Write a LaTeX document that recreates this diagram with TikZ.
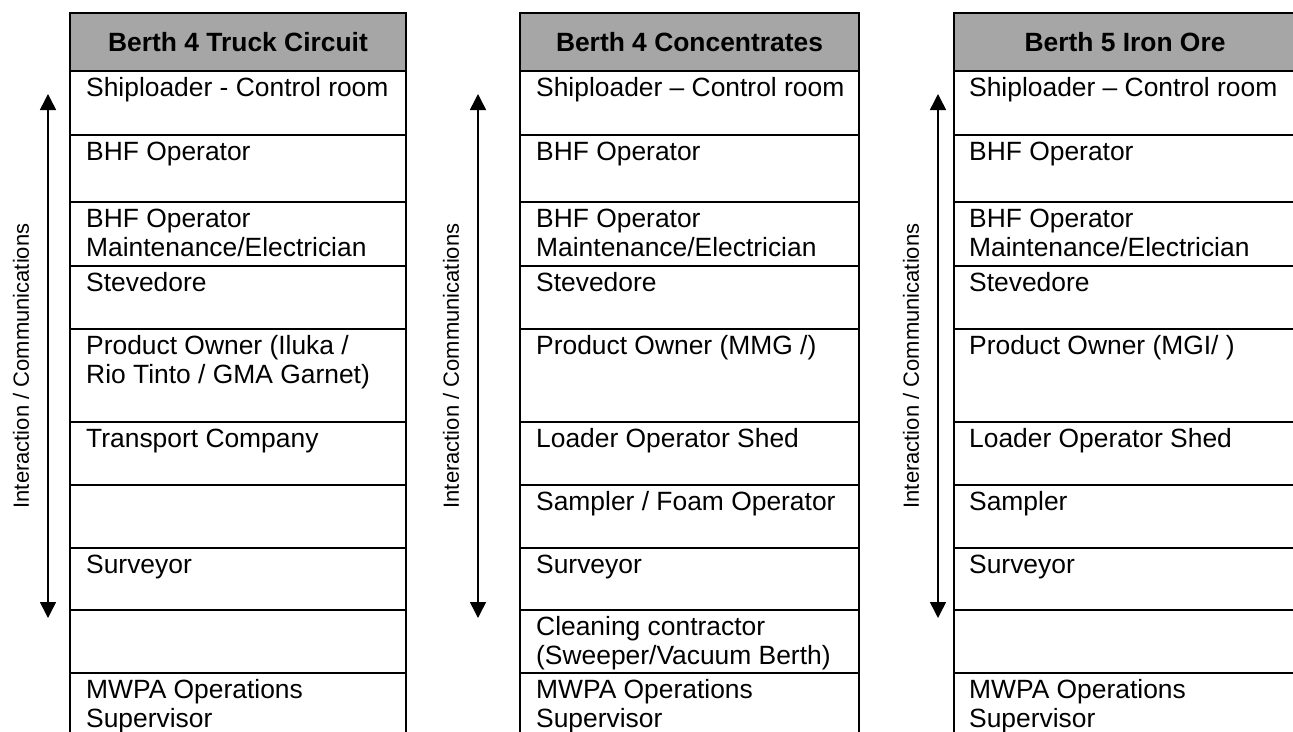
\documentclass[tikz,border=0pt]{standalone}
\usepackage{fontspec}
\setmainfont{Liberation Sans}
\usetikzlibrary{arrows.meta}
\definecolor{hdrgray}{RGB}{166,166,166}
\tikzset{
  grid/.style={draw=black, line width=1.8pt},
  hdr/.style={font=\fontsize{26.4}{30}\selectfont\bfseries, anchor=base, inner sep=0pt},
  celltxt/.style={font=\fontsize{26.4}{29}\selectfont, anchor=north west, inner sep=0pt, align=left},
  side/.style={font=\fontsize{22}{26}\selectfont, rotate=90, inner sep=0pt},
  comm/.style={line width=1.5pt, {Triangle[length=16pt,width=16pt]}-{Triangle[length=16pt,width=16pt]}},
}
\begin{document}
\begin{tikzpicture}[x=1pt,y=-1pt]
\useasboundingbox (0,0) rectangle (1293,731);
% ---------- table A ----------
\fill[hdrgray] (70,13) rectangle (406,71);
\draw[grid] (70,13) rectangle (406,71);
\node[hdr] (ha) at (238,51.5) {Berth 4 Truck Circuit};
\foreach \tp/\bt/\txt [count=\i] in {
  71/135/{Shiploader - Control room},
  135/202/{BHF Operator},
  202/266/{BHF Operator\\Maintenance/Electrician},
  266/329/{Stevedore},
  329/422/{Product Owner (Iluka /\\Rio Tinto / GMA Garnet)},
  422/485/{Transport Company},
  485/548/{},
  548/610/{Surveyor},
  610/673/{},
  673/745/{MWPA Operations\\Supervisor}}{
  \draw[grid] (70,\tp) rectangle (406,\bt);
  \node[celltxt] (a\i) at (86,\tp+5.2) {\strut\txt};
}
\coordinate (ta) at (48,94);
\coordinate (ba) at (48,618);
\draw[comm] (ta) -- (ba);
\node[side] (sa) at (21,366) {Interaction / Communications};
% ---------- table B ----------
\fill[hdrgray] (520,13) rectangle (859,71);
\draw[grid] (520,13) rectangle (859,71);
\node[hdr] (hb) at (689.5,51.5) {Berth 4 Concentrates};
\foreach \tp/\bt/\txt [count=\i] in {
  71/135/{Shiploader \textendash{} Control room},
  135/202/{BHF Operator},
  202/266/{BHF Operator\\Maintenance/Electrician},
  266/329/{Stevedore},
  329/422/{Product Owner (MMG /)},
  422/485/{Loader Operator Shed},
  485/548/{Sampler / Foam Operator},
  548/610/{Surveyor},
  610/673/{Cleaning contractor\\(Sweeper/Vacuum Berth)},
  673/745/{MWPA Operations\\Supervisor}}{
  \draw[grid] (520,\tp) rectangle (859,\bt);
  \node[celltxt] (b\i) at (536,\tp+5.2) {\strut\txt};
}
\coordinate (tb) at (478,94);
\coordinate (bb) at (478,618);
\draw[comm] (tb) -- (bb);
\node[side] (sb) at (451,366) {Interaction / Communications};
% ---------- table C ----------
\fill[hdrgray] (954,13) rectangle (1296,71);
\draw[grid] (954,13) rectangle (1296,71);
\node[hdr] (hc) at (1125,51.5) {Berth 5 Iron Ore};
\foreach \tp/\bt/\txt [count=\i] in {
  71/135/{Shiploader \textendash{} Control room},
  135/202/{BHF Operator},
  202/266/{BHF Operator\\Maintenance/Electrician},
  266/329/{Stevedore},
  329/422/{Product Owner (MGI/ )},
  422/485/{Loader Operator Shed},
  485/548/{Sampler},
  548/610/{Surveyor},
  610/673/{},
  673/745/{MWPA Operations\\Supervisor}}{
  \draw[grid] (954,\tp) rectangle (1296,\bt);
  \node[celltxt] (c\i) at (969,\tp+5.2) {\strut\txt};
}
\coordinate (tc) at (938,94);
\coordinate (bc) at (938,618);
\draw[comm] (tc) -- (bc);
\node[side] (sc) at (911,366) {Interaction / Communications};
\end{tikzpicture}
\end{document}
